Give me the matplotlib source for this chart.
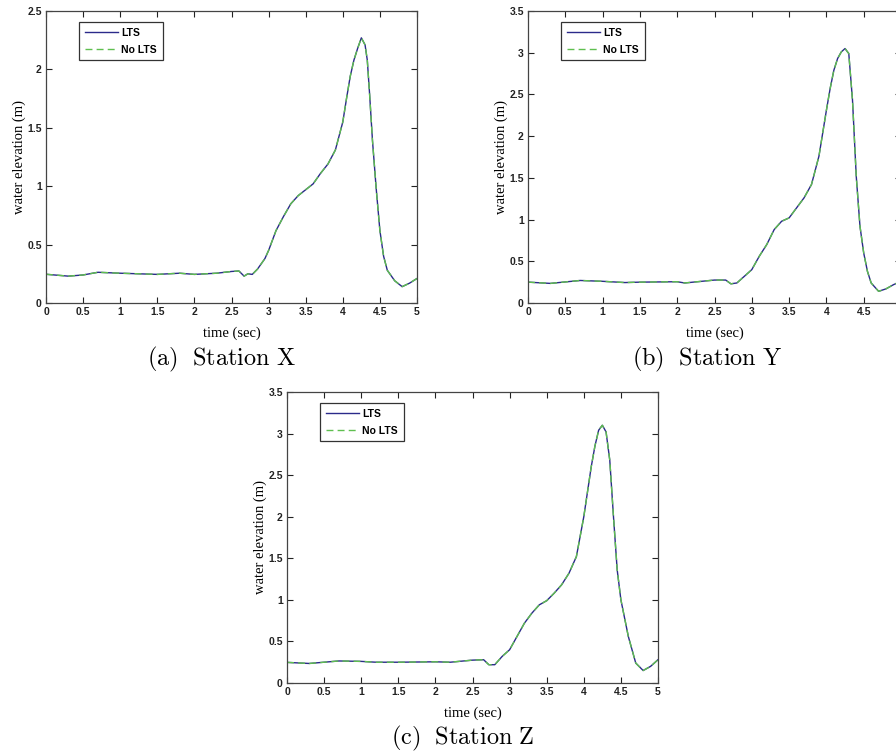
import matplotlib
matplotlib.use('Agg')
import matplotlib.pyplot as plt

# time (sec) and water elevation (m) read from the three stations
t_x = [0, 0.3, 0.5, 0.7, 1.0, 1.5, 1.8, 2.0, 2.3, 2.5, 2.6, 2.67, 2.72, 2.78, 2.85, 2.95,
       3.0, 3.1, 3.2, 3.3, 3.4, 3.5, 3.6, 3.7, 3.8, 3.9, 4.0, 4.05, 4.1, 4.15, 4.2, 4.25,
       4.3, 4.33, 4.36, 4.4, 4.45, 4.5, 4.55, 4.6, 4.7, 4.8, 4.9, 5.0]
h_x = [0.246, 0.23, 0.24, 0.263, 0.255, 0.245, 0.255, 0.245, 0.255, 0.27, 0.274, 0.23, 0.25, 0.245, 0.29, 0.38,
       0.45, 0.62, 0.74, 0.85, 0.92, 0.97, 1.02, 1.11, 1.19, 1.31, 1.55, 1.75, 1.94, 2.08, 2.18, 2.27,
       2.21, 2.08, 1.80, 1.39, 0.98, 0.62, 0.40, 0.28, 0.19, 0.14, 0.17, 0.21]

t_y = [0, 0.3, 0.7, 1.0, 1.3, 1.5, 2.0, 2.1, 2.5, 2.65, 2.72, 2.8, 2.9, 3.0, 3.1, 3.2,
       3.3, 3.4, 3.5, 3.6, 3.7, 3.8, 3.9, 4.0, 4.05, 4.1, 4.15, 4.2, 4.25, 4.3, 4.35, 4.4,
       4.45, 4.5, 4.55, 4.6, 4.7, 4.8, 4.9, 5.0]
h_y = [0.25, 0.235, 0.27, 0.26, 0.245, 0.25, 0.255, 0.24, 0.275, 0.275, 0.23, 0.24, 0.32, 0.40, 0.56, 0.70,
       0.88, 0.98, 1.02, 1.14, 1.26, 1.42, 1.76, 2.31, 2.57, 2.79, 2.93, 3.01, 3.05, 2.99, 2.43, 1.52,
       0.92, 0.60, 0.38, 0.24, 0.14, 0.17, 0.22, 0.26]

t_z = [0, 0.3, 0.5, 0.7, 1.0, 1.2, 1.5, 2.0, 2.2, 2.5, 2.65, 2.72, 2.8, 2.9, 3.0, 3.1,
       3.2, 3.3, 3.4, 3.5, 3.6, 3.7, 3.8, 3.9, 4.0, 4.05, 4.1, 4.15, 4.2, 4.25, 4.3, 4.35,
       4.4, 4.45, 4.5, 4.6, 4.7, 4.8, 4.9, 5.0]
h_z = [0.248, 0.235, 0.25, 0.265, 0.26, 0.25, 0.25, 0.255, 0.25, 0.275, 0.28, 0.22, 0.22, 0.32, 0.40, 0.56,
       0.72, 0.84, 0.94, 0.99, 1.08, 1.18, 1.32, 1.52, 2.0, 2.3, 2.6, 2.85, 3.04, 3.10, 3.02, 2.68,
       2.0, 1.36, 1.0, 0.56, 0.24, 0.15, 0.2, 0.28]

stations = [('X', t_x, h_x, 2.5), ('Y', t_y, h_y, 3.5), ('Z', t_z, h_z, 3.5)]
captions = ['(a)\\ \\ Station\\ X', '(b)\\ \\ Station\\ Y', '(c)\\ \\ Station\\ Z']
xticks = [0, 0.5, 1, 1.5, 2, 2.5, 3, 3.5, 4, 4.5, 5]
xticklabels = ['0', '0.5', '1', '1.5', '2', '2.5', '3', '3.5', '4', '4.5', '5']

plt.rcParams['mathtext.fontset'] = 'cm'

fig = plt.figure(figsize=(8.96, 7.55), dpi=100)
W, H = 896, 755
# axes boxes in pixels: left, top, right, bottom
boxes = [(46, 11, 417, 303), (528, 11, 901, 303), (287, 392, 658, 683)]
# caption centre x and baseline y in pixels
cap_pos = [(221, 365), (707, 365), (463, 744)]

for (name, t, h, ymax), cap, (l, tp, r, b), (cx, cy) in zip(stations, captions, boxes, cap_pos):
    ax = fig.add_axes([l / W, 1 - b / H, (r - l) / W, (b - tp) / H])
    ax.plot(t, h, color='#2b2a8a', lw=1.0, label='LTS')
    ax.plot(t, h, color='#5fbf4f', lw=1.0, ls=(0, (5, 3)), label='No LTS')
    ax.set_xlim(0, 5)
    ax.set_ylim(0, ymax)
    ax.set_xticks(xticks)
    labs = list(xticklabels)
    if name == 'Y':
        labs[-1] = ''  # falls outside the picture in the reference
    ax.set_xticklabels(labs)
    yt = [i * 0.5 for i in range(int(ymax / 0.5) + 1)]
    ax.set_yticks(yt)
    ax.set_yticklabels(['%g' % v for v in yt])
    ax.tick_params(direction='in', top=True, right=True, length=4, width=0.8,
                   labelsize=7.5, pad=3, colors='#222222')
    for lab in ax.get_xticklabels() + ax.get_yticklabels():
        lab.set_fontfamily('Liberation Sans')
        lab.set_fontweight('bold')
    for sp in ax.spines.values():
        sp.set_linewidth(0.9)
        sp.set_color('#444444')
    ax.set_xlabel('time (sec)', family='Liberation Serif', fontsize=10.5, labelpad=7)
    ax.set_ylabel('water elevation (m)', family='Liberation Serif', fontsize=10.5, labelpad=1)
    leg = ax.legend(loc='upper left', bbox_to_anchor=(0.089, 0.962), borderaxespad=0,
                    fancybox=False, framealpha=1, edgecolor='#333333', handlelength=3.2,
                    prop={'family': 'Liberation Sans', 'weight': 'bold', 'size': 7.5},
                    borderpad=0.55, labelspacing=0.65, handletextpad=0.3)
    leg.get_frame().set_linewidth(0.9)
    # caption under the panel
    fig.text(cx / W, 1 - cy / H, '$\\mathrm{' + cap + '}$',
             ha='center', va='baseline', fontsize=17.5)

fig.savefig('out.png', dpi=100)
